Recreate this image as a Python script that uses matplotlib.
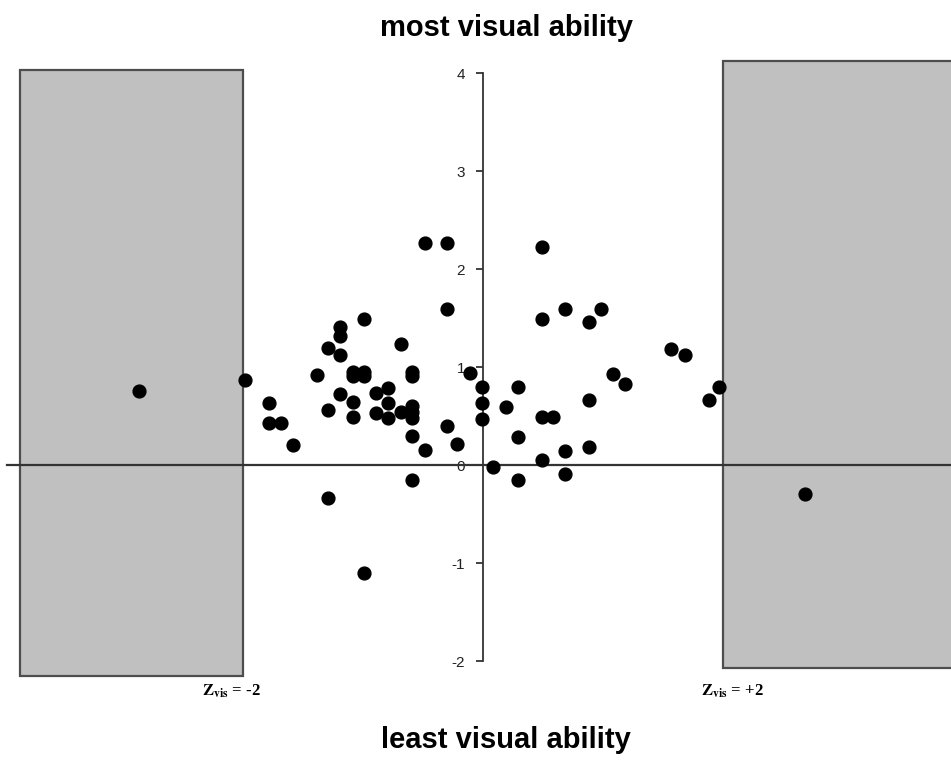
import matplotlib.pyplot as plt
from matplotlib.patches import Rectangle

plt.rcParams['mathtext.fontset'] = 'stix'

# z-scores (x) and visual ability scores (y)
z_x = [-2.87, -1.98, -1.78, -1.78, -1.68, -1.58, -1.38, -1.29, -1.29, -1.29,
       -1.19, -1.19, -1.19, -1.19, -1.08, -1.08, -1.08, -1.08, -0.99, -0.99,
       -0.99, -0.99, -0.89, -0.89, -0.79, -0.79, -0.79, -0.68, -0.68, -0.59,
       -0.59, -0.59, -0.59, -0.59, -0.59, -0.59, -0.48, -0.48, -0.30, -0.30,
       -0.30, -0.22, -0.11, -0.01, -0.01, -0.01, 0.08, 0.19, 0.29, 0.29,
       0.29, 0.49, 0.49, 0.49, 0.58, 0.49, 0.68, 0.68, 0.68, 0.88,
       0.88, 0.88, 0.98, 1.08, 1.18, 1.57, 1.68, 1.88, 1.97, 2.68]
z_y = [0.76, 0.87, 0.63, 0.43, 0.43, 0.20, 0.92, 1.19, 0.56, -0.34,
       1.41, 1.32, 1.12, 0.72, 0.95, 0.91, 0.64, 0.49, 1.49, 0.95,
       0.91, -1.10, 0.74, 0.53, 0.79, 0.63, 0.48, 1.24, 0.54, 0.95,
       0.91, 0.60, 0.54, 0.48, 0.30, -0.15, 2.27, 0.15, 2.27, 1.59,
       0.40, 0.21, 0.94, 0.80, 0.63, 0.47, -0.02, 0.59, 0.80, 0.29,
       -0.15, 2.22, 1.49, 0.49, 0.49, 0.05, 1.59, 0.14, -0.09, 1.46,
       0.66, 0.18, 1.59, 0.93, 0.83, 1.18, 1.12, 0.66, 0.80, -0.30]

y_ticks = [-2, -1, 0, 1, 2, 3, 4]
cutoffs = [-2, 2]

fig = plt.figure(figsize=(9.51, 7.62), dpi=100)
ax = fig.add_axes([0, 0, 1, 1])
ax.set_xlim(-4.025, 3.9)
ax.set_ylim(-3.03, 4.745)

# shaded regions beyond the cutoffs
ax.add_patch(Rectangle((-3.86, -2.15), cutoffs[0] + 3.86, 6.18,
                       facecolor='#c0c0c0', edgecolor='#4d4d4d', lw=1.6, zorder=1))
ax.add_patch(Rectangle((cutoffs[1], -2.07), 2.5, 6.19,
                       facecolor='#c0c0c0', edgecolor='#4d4d4d', lw=1.6, zorder=1))

# axes through origin
for s in ['top', 'right']:
    ax.spines[s].set_visible(False)
ax.spines['left'].set_position(('data', 0))
ax.spines['left'].set_bounds(-2, 4)
ax.spines['left'].set_color('#333333')
ax.spines['left'].set_linewidth(1.3)
ax.spines['bottom'].set_position(('data', 0))
ax.spines['bottom'].set_bounds(-3.97, 3.9)
ax.spines['bottom'].set_color('#333333')
ax.spines['bottom'].set_linewidth(1.6)
ax.set_xticks([])
ax.set_yticks(y_ticks)
ax.set_yticklabels([str(t) for t in y_ticks], fontsize=11, color='#222222',
                   family='Liberation Sans')
ax.tick_params(axis='y', direction='out', length=5, width=1.3, color='#333333', pad=8)

ax.scatter(z_x, z_y, s=85, color='black', zorder=3)

ax.text(cutoffs[0] - 0.1, -2.31, r'$\mathbf{Z}_{\mathbf{vis}}$ = -2', ha='center', va='center',
        fontsize=12, fontweight='bold', family='Liberation Serif')
ax.text(cutoffs[1] + 0.08, -2.31, r'$\mathbf{Z}_{\mathbf{vis}}$ = +2', ha='center', va='center',
        fontsize=12, fontweight='bold', family='Liberation Serif')

fig.text(506 / 951, 1 - 28 / 762, 'most visual ability', ha='center', va='center',
         fontsize=21, fontweight='bold', family='Liberation Sans')
fig.text(506 / 951, 1 - 740 / 762, 'least visual ability', ha='center', va='center',
         fontsize=21, fontweight='bold', family='Liberation Sans')

fig.savefig('out.png', dpi=100)
